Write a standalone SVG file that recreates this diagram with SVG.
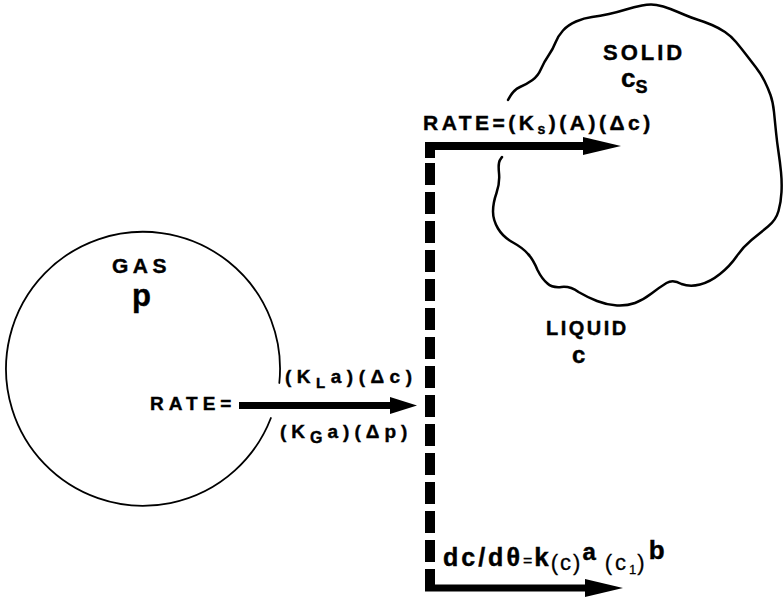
<svg xmlns="http://www.w3.org/2000/svg" width="784" height="599" viewBox="0 0 784 599">
<style>
.t{font-family:"Liberation Sans",Arial,sans-serif;font-weight:bold;fill:#000;stroke:#000;stroke-width:0.4}
.n{font-weight:normal;stroke-width:0.3}
.outline{fill:none;stroke:#000;stroke-linecap:round;stroke-linejoin:round}
.arr{fill:none;stroke:#000}
</style>
<defs>
<marker id="headL" markerUnits="userSpaceOnUse" markerWidth="40" markerHeight="20" viewBox="0 0 40 20" refX="3" refY="9" orient="auto">
<path d="M0,0 L38,9 L0,18 Z" fill="#000"/>
</marker>
<marker id="headS" markerUnits="userSpaceOnUse" markerWidth="30" markerHeight="18" viewBox="0 0 30 18" refX="2" refY="8.5" orient="auto">
<path d="M0,0 L27,8.5 L0,17 Z" fill="#000"/>
</marker>
</defs>
<rect width="784" height="599" fill="#fff"/>

<g id="gas">
<path class="outline" stroke-width="1.8" d="M279.3,383 A137,137 0 1 0 270.9,418"/>
<text class="t" x="112" y="273" font-size="21" letter-spacing="4.5">GAS</text>
<text class="t" x="132" y="306" font-size="31">p</text>
</g>

<g id="solid">
<path class="outline" stroke-width="2.5" d="M508,100 Q513,90 520,87 Q527,84 532.5,80 Q538,76 541,69 Q544,62 548.5,55.5 Q553,49 555.5,42.5 Q558,36 563,30.5 Q568,25 576,21.5 Q584,18 592,17 Q600,16 609,14 Q618,12 626,9.5 Q634,7 642,5.5 Q650,4 656.5,5 Q663,6 670.5,9 Q678,12 685,15 Q692,18 698.5,20 Q705,22 712,25 Q719,28 725,32 Q731,36 736,42 Q741,48 746,54.5 Q751,61 756,67.5 Q761,74 764.5,81 Q768,88 770.5,95 Q773,102 774,112 Q775,122 776,132 Q777,142 778.5,152 Q780,162 781,172 Q782,182 781.5,192 Q781,202 778.5,211 Q776,220 768,226.5 Q760,233 751.5,240 Q743,247 736.5,256.5 Q730,266 720,274 Q710,282 700,284.5 Q690,287 681.5,284 Q673,279 666.5,283 Q660,287 651.5,293.5 Q643,300 635,303 Q627,306 617,305.5 Q607,305 597,301 Q587,297 578.5,292 Q570,286 561.5,287 Q552,288 547.5,283.5 Q542,279 537.5,270 Q533,259 528,254 Q523,248 513,242.5 Q503,237 498,228.5 Q493,220 493,211.5 Q493,203 496.5,193 Q500,183 499,173 Q498,163 500,160 L502,157"/>
<text class="t" x="603" y="60" font-size="22" letter-spacing="3">SOLID</text>
<text class="t" x="621" y="87" font-size="26">c<tspan dy="6" font-size="18">S</tspan></text>
</g>

<g id="liquid">
<text class="t" x="546" y="335" font-size="20" letter-spacing="2.5">LIQUID</text>
<text class="t" x="572" y="363" font-size="24">c</text>
</g>

<g id="connectors">
<path class="arr" stroke-width="7" d="M239,405.5 H392" marker-end="url(#headS)"/>
<rect x="425" y="142" width="10" height="16" fill="#000"/>
<path class="arr" stroke-width="8" d="M425,146 H586" marker-end="url(#headL)"/>
<path class="arr" stroke-width="10" stroke-dasharray="22 7" d="M430,163 V591"/>
<path class="arr" stroke-width="7" d="M425,588 H588" marker-end="url(#headL)"/>
</g>

<g id="connector-labels">
<text class="t" x="150" y="410" font-size="19" letter-spacing="5">RATE=</text>
<text class="t" x="285" y="383" font-size="19" letter-spacing="5.5">(K<tspan dy="5" font-size="15">L</tspan><tspan dy="-5">a)(Δc)</tspan></text>
<text class="t" x="280" y="438" font-size="19" letter-spacing="5">(K<tspan dy="5" font-size="16">G</tspan><tspan dy="-5">a)(Δp)</tspan></text>
<text class="t" x="423" y="130" font-size="21" letter-spacing="3.5">RATE=(K<tspan dy="4" font-size="14">s</tspan><tspan dy="-4">)(A)(Δc)</tspan></text>
<text class="t" x="443" y="566" font-size="25" letter-spacing="3">dc/dθ<tspan class="n" font-size="16" letter-spacing="2">=</tspan><tspan font-size="26" letter-spacing="2">k</tspan><tspan class="n" font-size="22" dy="4" letter-spacing="2">(c)</tspan><tspan font-size="24" dy="-10" letter-spacing="9">a</tspan><tspan class="n" font-size="22" dy="10" letter-spacing="3">(c</tspan><tspan class="n" font-size="13" dy="4" letter-spacing="1">1</tspan><tspan class="n" font-size="22" dy="-4" letter-spacing="4">)</tspan><tspan font-size="26" dy="-11">b</tspan></text>
</g>
</svg>
